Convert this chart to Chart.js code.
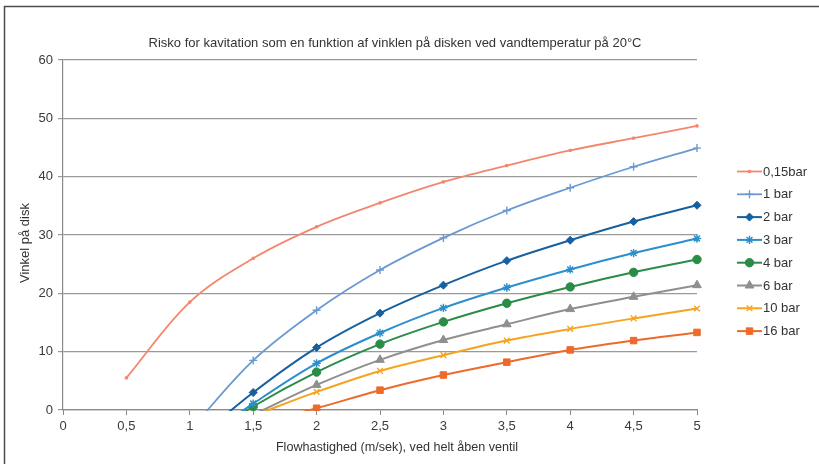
<!DOCTYPE html>
<html>
<head>
<meta charset="utf-8">
<script src="https://cdn.jsdelivr.net/npm/chart.js@4"></script>
<style>
  html, body { margin: 0; padding: 0; background: #ffffff; }
  #wrap { position: relative; width: 819px; height: 464px; }
</style>
</head>
<body>
<div id="wrap"><canvas id="c" width="819" height="464"></canvas></div>
<script>
// ---- data ----
const chartTitle = "Risko for kavitation som en funktion af vinklen på disken ved vandtemperatur på 20°C";
const xAxisTitle = "Flowhastighed (m/sek), ved helt åben ventil";
const yAxisTitle = "Vinkel på disk";
const xValues = [0.5, 1, 1.5, 2, 2.5, 3, 3.5, 4, 4.5, 5];
const seriesLabels = ["0,15bar", "1 bar", "2 bar", "3 bar", "4 bar", "6 bar", "10 bar", "16 bar"];
const bar015 = [5.5, 18.5, 26.0, 31.4, 35.5, 39.1, 41.9, 44.5, 46.6, 48.7];
const bar1   = [null, -3.5, 8.5, 17.1, 24.0, 29.5, 34.2, 38.1, 41.7, 44.9];
const bar2   = [null, -6.0, 3.0, 10.7, 16.6, 21.4, 25.6, 29.1, 32.3, 35.1];
const bar3   = [null, -6.5, 1.1, 8.0, 13.2, 17.5, 21.0, 24.1, 26.9, 29.4];
const bar4   = [null, -6.5, 0.6, 6.5, 11.3, 15.1, 18.3, 21.1, 23.6, 25.8];
const bar6   = [null, null, -0.8, 4.3, 8.6, 12.0, 14.7, 17.3, 19.4, 21.4];
const bar10  = [null, null, -1.0, 3.1, 6.7, 9.4, 11.9, 13.9, 15.7, 17.4];
const bar16  = [null, null, -2.5, 0.3, 3.4, 6.0, 8.2, 10.3, 11.9, 13.3];
const xTicks = { min: 0, max: 5, step: 0.5 };
const yTicks = { min: 0, max: 60, step: 10 };

// ---- styles ----
const seriesValues = [bar015, bar1, bar2, bar3, bar4, bar6, bar10, bar16];
const colors = ["#F3876E", "#6A99D2", "#17609F", "#2A8FCC", "#2B8C47", "#8F8F8F", "#F6A31E", "#EE6A2A"];
const pStyles = ["rect", "cross", "rectRot", "star", "circle", "triangle", "crossRot", "rect"];
const pRadius = [1.6, 4, 4, 4.2, 4.2, 5, 4, 4.6];
const lWidths = [1.8, 1.8, 2, 2, 2, 2, 2, 2];
const FONT = "'Liberation Sans', Arial, Helvetica, sans-serif";

const datasets = seriesLabels.map((lab, i) => ({
  label: lab,
  data: xValues.map((x, j) => ({ x: x, y: seriesValues[i][j] })).filter(p => p.y !== null),
  borderColor: colors[i],
  backgroundColor: colors[i],
  borderWidth: lWidths[i],
  pointStyle: pStyles[i],
  pointRadius: pRadius[i],
  pointBorderWidth: (pStyles[i] === "cross" || pStyles[i] === "crossRot" || pStyles[i] === "star") ? 1.4 : 1,
  pointBackgroundColor: colors[i],
  pointBorderColor: colors[i],
  tension: 0.35,
  fill: false,
  clip: { left: 10, right: 10, top: 10, bottom: 1 }
}));

const decor = {
  id: 'decor',
  beforeDraw(chart) {
    const ctx = chart.ctx;
    ctx.save();
    ctx.fillStyle = '#ffffff';
    ctx.fillRect(0, 0, chart.width, chart.height);
    ctx.strokeStyle = '#4d4d4d';
    ctx.lineWidth = 1.5;
    ctx.beginPath();
    ctx.moveTo(4.5, chart.height);
    ctx.lineTo(4.5, 6.5);
    ctx.lineTo(chart.width, 6.5);
    ctx.stroke();
    ctx.restore();
  },
  afterDraw(chart) {
    const ctx = chart.ctx;
    const ca = chart.chartArea;
    ctx.save();
    ctx.fillStyle = '#333333';
    ctx.textAlign = 'center';
    ctx.textBaseline = 'middle';
    // chart title
    ctx.font = "13px " + FONT;
    ctx.fillText(chartTitle, 395, 43);
    // x axis title
    ctx.font = "12.6px " + FONT;
    ctx.fillText(xAxisTitle, 397, 448);
    // y axis title
    ctx.font = "13px " + FONT;
    ctx.save();
    ctx.translate(25, (ca.top + ca.bottom) / 2 + 8);
    ctx.rotate(-Math.PI / 2);
    ctx.fillText(yAxisTitle, 0, 0);
    ctx.restore();
    // legend
    ctx.font = "13px " + FONT;
    ctx.textAlign = 'left';
    chart.data.datasets.forEach((ds, i) => {
      const y = 171.5 + i * 22.8;
      ctx.strokeStyle = ds.borderColor;
      ctx.lineWidth = ds.borderWidth;
      ctx.beginPath();
      ctx.moveTo(737, y);
      ctx.lineTo(762, y);
      ctx.stroke();
      ctx.fillStyle = ds.pointBackgroundColor;
      ctx.strokeStyle = ds.pointBorderColor;
      ctx.lineWidth = ds.pointBorderWidth;
      Chart.helpers.drawPoint(ctx, { pointStyle: ds.pointStyle, radius: ds.pointRadius, rotation: 0, borderWidth: ds.pointBorderWidth }, 749.5, y);
      ctx.fillStyle = '#333333';
      ctx.fillText(ds.label, 763, y + 0.5);
    });
    ctx.restore();
  }
};

new Chart(document.getElementById('c'), {
  type: 'line',
  data: { datasets: datasets },
  options: {
    responsive: false,
    animation: false,
    events: [],
    layout: { padding: { left: 0, right: 122, top: 60, bottom: 0 } },
    elements: { line: { capBezierPoints: false } },
    plugins: { legend: { display: false }, title: { display: false }, tooltip: { enabled: false } },
    scales: {
      x: {
        type: 'linear',
        min: xTicks.min, max: xTicks.max,
        afterFit(scale) { scale.height = 54; },
        ticks: {
          stepSize: xTicks.step,
          autoSkip: false,
          maxRotation: 0,
          color: '#3a3a3a',
          font: { family: FONT, size: 13 },
          padding: 4,
          callback: (v) => String(v).replace('.', ',')
        },
        grid: { drawOnChartArea: false, drawTicks: true, tickLength: 5, color: '#8a8a8a', lineWidth: 1 },
        border: { display: true, color: '#8a8a8a', width: 1.2 }
      },
      y: {
        type: 'linear',
        min: yTicks.min, max: yTicks.max,
        afterFit(scale) { scale.width = 63; },
        ticks: {
          stepSize: yTicks.step,
          color: '#3a3a3a',
          font: { family: FONT, size: 13 },
          padding: 5
        },
        grid: { drawOnChartArea: true, drawTicks: true, tickLength: 5, color: '#9a9a9a', lineWidth: 1.2 },
        border: { display: true, color: '#8a8a8a', width: 1.2 }
      }
    }
  },
  plugins: [decor]
});
</script>
</body>
</html>
